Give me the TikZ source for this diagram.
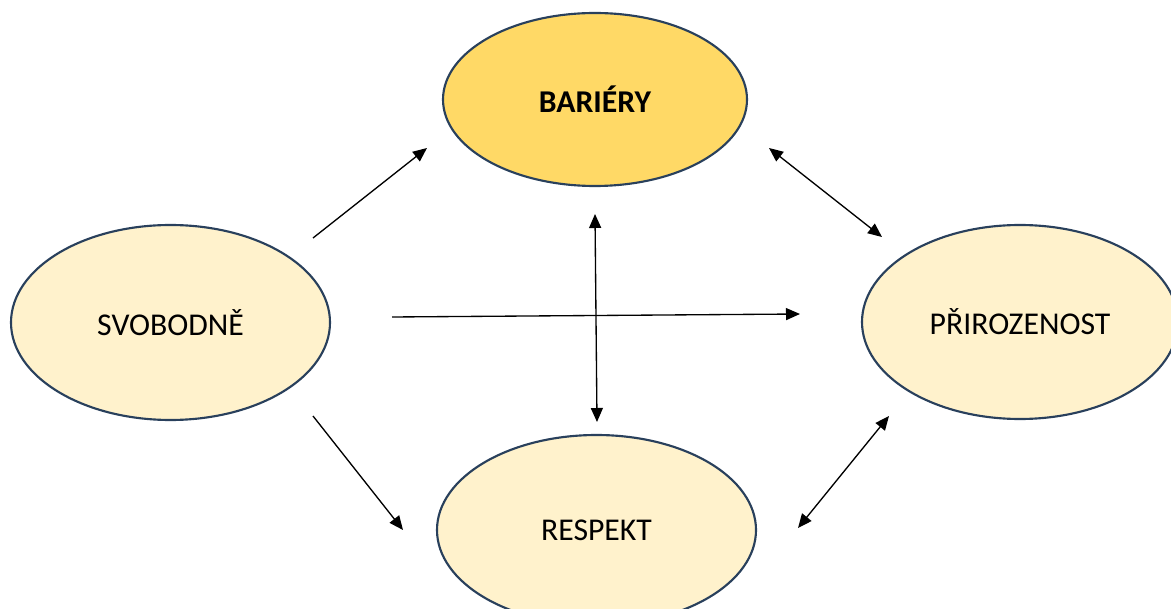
\documentclass[tikz,border=0pt]{standalone}
\usepackage{fontspec}
\setmainfont{Carlito}
\usetikzlibrary{shapes.geometric,arrows.meta}

\newlength{\du}
\setlength{\du}{0.75pt}

\definecolor{dialinecolor}{rgb}{0.000000, 0.000000, 0.000000}
\definecolor{edgecolor}{rgb}{0.160000, 0.250000, 0.360000}
\definecolor{goldfill}{rgb}{1.000000, 0.851000, 0.400000}
\definecolor{creamfill}{rgb}{1.000000, 0.949000, 0.800000}

\tikzset{
  oval/.style={ellipse, draw=edgecolor, line width=1.6pt, fill=creamfill,
    inner sep=0pt, font=\fontsize{23.8}{28}\selectfont},
  link/.style={draw=dialinecolor, line width=1pt,
    -{Triangle[length=10.5pt,width=9pt]}},
  dlink/.style={draw=dialinecolor, line width=1pt,
    {Triangle[length=10.5pt,width=9pt]}-{Triangle[length=10.5pt,width=9pt]}}
}

\begin{document}
\begin{tikzpicture}[yscale=-1]
\useasboundingbox (0\du,0\du) rectangle (1171\du,609\du);
\clip (0\du,0\du) rectangle (1171\du,609\du);
% ovals
\node[oval, fill=goldfill, minimum width=304\du, minimum height=173\du,
  font=\fontsize{23.8}{28}\selectfont\bfseries] (bariery) at (595\du,99.5\du){BARIÉRY};
\node[oval, minimum width=319\du, minimum height=195\du] (svobodne) at (170.5\du,322.5\du){SVOBODNĚ};
\node[oval, minimum width=316\du, minimum height=194\du] (prirozenost) at (1020\du,322\du){PŘIROZENOST};
\node[oval, minimum width=319\du, minimum height=190\du] (respekt) at (596.5\du,530\du){RESPEKT};
% arrow ends
\coordinate (sb1) at (313\du,238\du);
\coordinate (sb2) at (427\du,148\du);
\coordinate (sp1) at (392\du,317\du);
\coordinate (sp2) at (800\du,314\du);
\coordinate (sr1) at (313\du,416\du);
\coordinate (sr2) at (403\du,530\du);
\coordinate (br1) at (595\du,214\du);
\coordinate (br2) at (597\du,422\du);
\coordinate (bp1) at (769\du,148\du);
\coordinate (bp2) at (882\du,237\du);
\coordinate (rp1) at (798\du,528\du);
\coordinate (rp2) at (889\du,416\du);
% arrows
\draw[link] (sb1)--(sb2);
\draw[link] (sp1)--(sp2);
\draw[link] (sr1)--(sr2);
\draw[dlink] (br1)--(br2);
\draw[dlink] (bp1)--(bp2);
\draw[dlink] (rp1)--(rp2);
\end{tikzpicture}
\end{document}
